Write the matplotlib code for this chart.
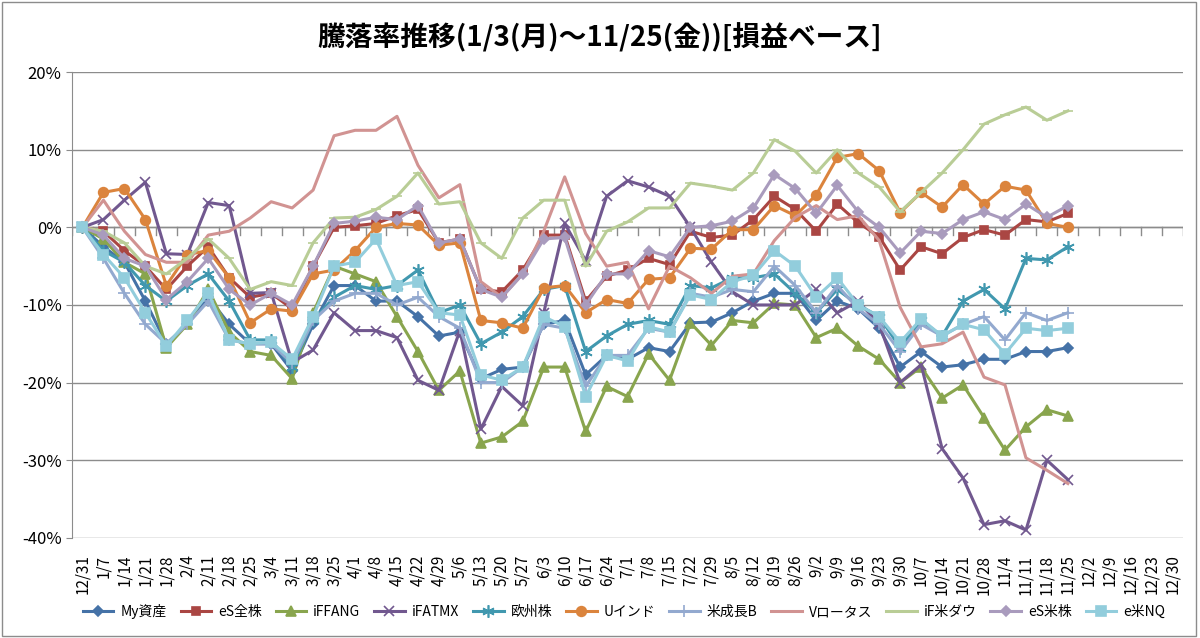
import matplotlib
matplotlib.use("Agg")
import matplotlib.pyplot as plt
from matplotlib.patches import Rectangle

plt.rcParams['font.family'] = ['Noto Sans CJK JP', 'DejaVu Sans']

dates = ["12/31","1/7","1/14","1/21","1/28","2/4","2/11","2/18","2/25","3/4","3/11","3/18","3/25",
         "4/1","4/8","4/15","4/22","4/29","5/6","5/13","5/20","5/27","6/3","6/10","6/17","6/24",
         "7/1","7/8","7/15","7/22","7/29","8/5","8/12","8/19","8/26","9/2","9/9","9/16","9/23",
         "9/30","10/7","10/14","10/21","10/28","11/4","11/11","11/18","11/25","12/2","12/9",
         "12/16","12/23","12/30"]

my_assets = [0,-2.5,-4.5,-9.5,-15,-12.5,-9,-12.5,-15,-15,-18.5,-12.5,-7.5,-7.5,-9.5,-9.5,-11.5,-14,-13.5,-19.5,-18.3,-18,-12.5,-12,-19,-16.5,-17,-15.5,-16,-12.3,-12.2,-11,-9.5,-8.5,-8.5,-12,-9.5,-10.5,-13,-18,-16,-18,-17.7,-17,-17,-16,-16,-15.5]
es_all = [0,-0.5,-3,-5,-8,-5,-2.5,-6.5,-9,-8.5,-10.5,-5,0,0.2,0.5,1.5,2.3,-2,-1.5,-8,-8.3,-5.5,-1,-1,-9.5,-6.3,-5.5,-4,-4.8,-0.5,-1.3,-1,1,4,2.3,-0.5,3,0.6,-1.2,-5.5,-2.5,-3.4,-1.3,-0.3,-1,1,0.7,1.8]
iffang = [0,-1.5,-4.5,-6,-15.5,-12.5,-8,-13.5,-16,-16.5,-19.5,-11,-5,-6,-7,-11.5,-16,-21,-18.5,-27.8,-27,-25,-18,-18,-26.3,-20.5,-21.8,-16.3,-19.7,-12.3,-15.2,-12,-12.3,-9.8,-10,-14.2,-13,-15.3,-17,-20,-18,-22,-20.3,-24.5,-28.7,-25.7,-23.5,-24.3]
ifatmx = [0,1,3.5,5.8,-3.4,-3.5,3.2,2.8,-8.5,-8.4,-17.4,-15.8,-11,-13.3,-13.3,-14.2,-19.7,-21,-13.3,-26,-20.5,-23,-11,0.5,-4.3,4,6,5.2,4,0,-4.5,-8.3,-10,-10,-10,-8,-11,-9.5,-12.5,-20,-17.7,-28.5,-32.3,-38.3,-37.8,-39,-30,-32.5]
europe = [0,-3,-4.5,-7.5,-9.5,-7.5,-6,-9.5,-14.5,-14.5,-18,-12,-9,-7.5,-8,-7.5,-5.5,-11,-10,-15,-13.5,-11.5,-8,-7.5,-16,-14,-12.5,-12,-12.5,-7.5,-7.8,-6.5,-6.5,-6,-8.5,-11,-8,-10,-11.5,-15.5,-12,-14,-9.5,-8,-10.5,-4,-4.2,-2.5]
u_india = [0,4.5,5,1,-7.5,-3.5,-3,-6.5,-12.3,-10.5,-10.8,-6,-5.5,-3,0,0.5,0.3,-2.3,-2,-12,-12.3,-13,-7.8,-7.5,-11,-9.3,-9.8,-6.7,-6.5,-2.7,-2.8,-0.3,-0.3,2.8,1.5,4.2,9,9.5,7.3,1.9,4.5,2.6,5.5,3,5.3,4.8,0.5,0]
us_growth = [0,-4,-8.5,-12.5,-15,-12.5,-9.5,-14.5,-15,-15,-17.5,-12,-9.5,-8.5,-8.5,-10,-9,-11.5,-13,-20,-20,-18,-12.5,-13,-20.5,-16.5,-16.5,-13,-13.5,-8.5,-9,-8,-8.3,-5,-7.5,-11,-7.5,-10.5,-12.5,-16,-12.5,-14,-12.5,-11.5,-14.5,-11,-12,-11]
v_lotus = [0,3.5,-0.5,-3.5,-4.5,-4.5,-1,-0.5,1.2,3.3,2.5,4.8,11.8,12.5,12.5,14.3,8,3.8,5.5,-7,-9,-6,-0.5,6.5,-0.8,-5,-4.5,-10.5,-5,-6.5,-8.5,-6.3,-6,-1.7,1.3,2.8,1,1.5,-1.7,-10.3,-15.4,-15,-13.5,-19.3,-20.3,-29.7,-31.3,-33]
if_dow = [0,-0.5,-2,-5,-6,-4,-1.5,-4,-8,-7,-7.5,-2,1.2,1.3,2.3,4,7,3,3.3,-2,-4,1.2,3.5,3.5,-5,-0.5,0.7,2.5,2.5,5.7,5.3,4.8,7,11.3,9.8,7,10,7,5.2,2,4.5,7,10,13.3,14.5,15.5,13.8,15]
es_us = [0,-1,-4,-5,-9.3,-7,-4,-8,-10,-8.5,-10,-5,0.5,0.8,1.3,1,2.8,-2,-1.5,-8,-9,-6,-1.5,-1.3,-10,-6,-6,-3,-3.8,0,0.2,0.8,2.5,6.8,5,1.8,5.4,2,0,-3.3,-0.5,-0.8,1,2,1,3,1.3,2.8]
e_nq = [0,-3.5,-6.5,-11,-15.3,-12,-8.5,-14.5,-15,-14.8,-17,-11.5,-5,-4.5,-1.5,-7.5,-7,-11,-11.3,-19,-19.7,-18,-11.5,-12.8,-21.8,-16.5,-17.2,-12.8,-13.5,-8.7,-9.3,-7,-6.2,-3,-5,-9,-6.5,-10,-11.5,-14.8,-11.8,-14,-12.5,-13.2,-16.3,-13,-13.3,-13]

series = [
    ("My資産", my_assets, "#4572A7", "D", 5),
    ("eS全株", es_all, "#AA4643", "s", 6),
    ("iFFANG", iffang, "#89A54E", "^", 7),
    ("iFATMX", ifatmx, "#71588F", "x", 7),
    ("欧州株", europe, "#4198AF", (6, 2, 0), 9),
    ("Uインド", u_india, "#DB843D", "o", 7),
    ("米成長B", us_growth, "#93A9CF", "+", 8),
    ("Vロータス", v_lotus, "#D19392", None, 0),
    ("iF米ダウ", if_dow, "#B9CD96", "_", 7),
    ("eS米株", es_us, "#A99BBD", "D", 5),
    ("e米NQ", e_nq, "#92CDDC", "s", 7),
]

fig = plt.figure(figsize=(12, 6.38), dpi=100)
ax = fig.add_axes([0.06, 0.157, 0.926, 0.73])
x_all = list(range(len(dates)))
for name, vals, col, mk, ms in series:
    xs = x_all[:len(vals)]
    ax.plot(xs, vals, color=col, lw=2.2, marker=mk, markersize=ms,
            markeredgecolor=col, markerfacecolor=col, markeredgewidth=1.2, label=name)

ax.set_ylim(-40, 20)
ax.set_xlim(-0.5, len(dates) - 0.5)
ax.set_yticks(range(-40, 21, 10))
ax.set_yticklabels([f"{v}%" for v in range(-40, 21, 10)], fontsize=12)
ax.yaxis.grid(True, color="#8c8c8c", lw=1)
ax.set_axisbelow(True)
for s in ["top", "right", "bottom"]:
    ax.spines[s].set_visible(False)
ax.spines["left"].set_color("#8c8c8c")
ax.axhline(0, color="#8c8c8c", lw=1, zorder=0)
ax.set_xticks(x_all)
ax.set_xticklabels(dates, rotation=90, fontsize=11)
ax.tick_params(axis="x", length=0, pad=12)
ax.tick_params(axis="y", length=4, color="#8c8c8c")
for i in range(len(dates) + 1):
    ax.plot([i - 0.5, i - 0.5], [0, -1.0], color="#8c8c8c", lw=1, zorder=0)

fig.suptitle("騰落率推移(1/3(月)～11/25(金))[損益ベース]", y=0.965, fontsize=20, fontweight="bold")
fig.legend(loc="lower center", ncol=11, frameon=False, fontsize=10,
           bbox_to_anchor=(0.52, 0.01), handlelength=2.2, columnspacing=1.0, handletextpad=0.5)
fig.patches.append(Rectangle((0.002, 0.003), 0.995, 0.994, transform=fig.transFigure,
                             fill=False, edgecolor="#8c8c8c", lw=1))
fig.savefig("out.png", dpi=100)
